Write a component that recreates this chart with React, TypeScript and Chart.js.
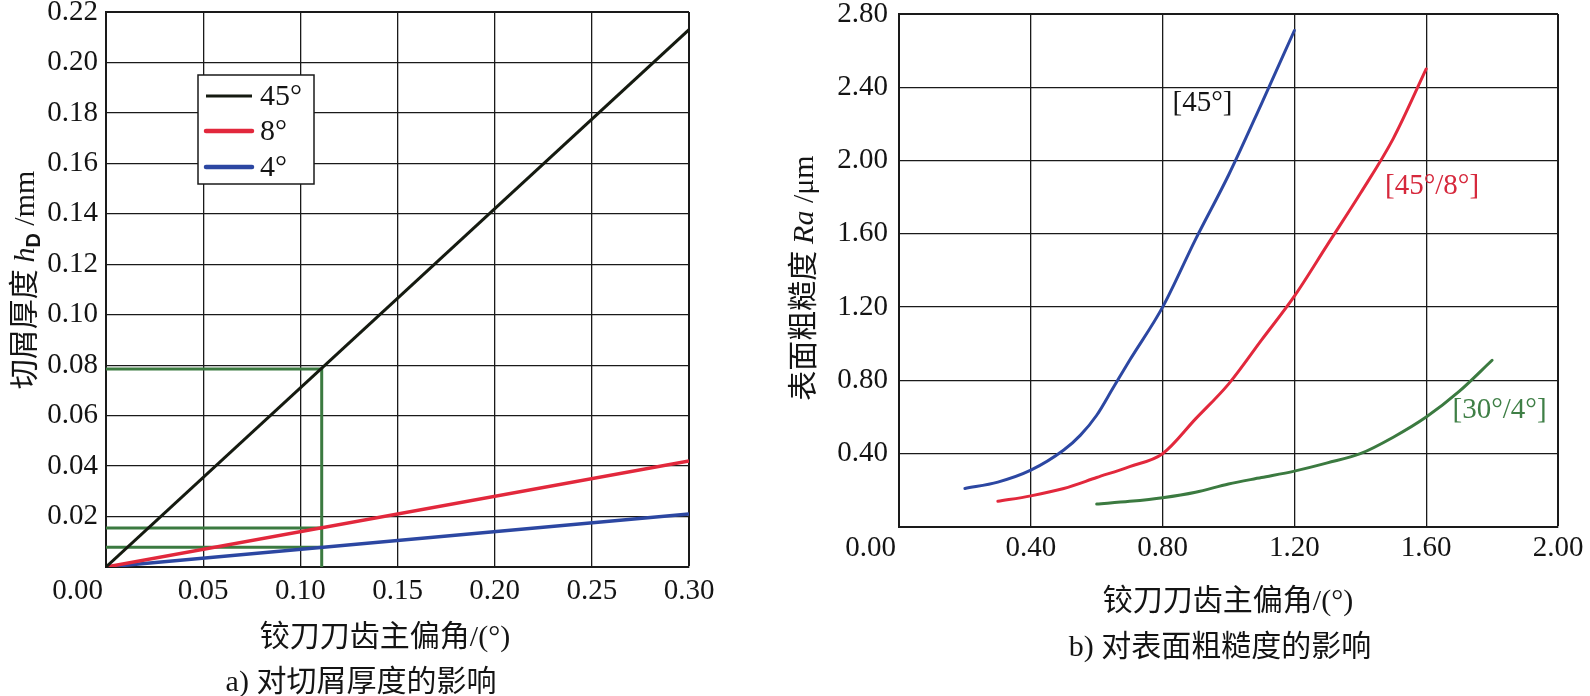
import React, { useEffect, useRef } from "react";
import { Chart, registerables } from "chart.js";

Chart.register(...registerables);

const SERIF = '"Liberation Serif", "DejaVu Serif", serif';
const CJK = '"Noto Sans CJK SC", "Noto Sans", sans-serif';
const SANS = '"Liberation Sans", "DejaVu Sans", sans-serif';
const TEXT = "#141414";
const GRID = "#1a1a1a";

// ---------- Left chart: chip thickness ----------
const feedX = [0, 0.3];
const hD45 = [0, 0.213];
const hD8 = [0, 0.042];
const hD4 = [0, 0.021];
const refX = 0.111;
const refY = [0.0785, 0.0155, 0.0078];
const legendLabels = ["45°", "8°", "4°"];
const leftColors = ["#151a10", "#e2283c", "#2c47a2"];
const refColor = "#3b7a40";

// ---------- Right chart: surface roughness ----------
const ra45X = [0.2, 0.3, 0.4, 0.5, 0.55, 0.6, 0.65, 0.7, 0.8, 0.9, 1.0, 1.1, 1.2];
const ra45Y = [0.21, 0.245, 0.31, 0.42, 0.5, 0.61, 0.76, 0.91, 1.2, 1.57, 1.92, 2.31, 2.71];
const ra458X = [0.3, 0.4, 0.5, 0.6, 0.7, 0.8, 0.9, 1.0, 1.1, 1.2, 1.3, 1.4, 1.5, 1.6];
const ra458Y = [0.14, 0.17, 0.21, 0.27, 0.33, 0.4, 0.59, 0.78, 1.02, 1.26, 1.54, 1.82, 2.12, 2.5];
const ra304X = [0.6, 0.7, 0.8, 0.9, 1.0, 1.1, 1.2, 1.3, 1.4, 1.5, 1.6, 1.7, 1.8];
const ra304Y = [0.125, 0.14, 0.16, 0.19, 0.235, 0.27, 0.305, 0.35, 0.4, 0.49, 0.6, 0.74, 0.91];
const curveLabels = ["[45°]", "[45°/8°]", "[30°/4°]"];
const curveLabelX = [0.83, 1.475, 1.68];
const curveLabelY = [2.31, 1.86, 0.634];
const rightColors = ["#2c47a2", "#e2283c", "#3b7a40"];
const curveLabelColors = ["#141414", "#d6283c", "#3f7f46"];

const xTitle = "铰刀刀齿主偏角";
const xTitleUnit = "/(°)";
const leftSubtitle = "对切屑厚度的影响";
const rightSubtitle = "对表面粗糙度的影响";

type Seg = { t: string; font: string; dy?: number };

function drawRich(ctx: CanvasRenderingContext2D, segs: Seg[], cx: number, cy: number, rotate: boolean, color = TEXT) {
  ctx.save();
  ctx.translate(cx, cy);
  if (rotate) ctx.rotate(-Math.PI / 2);
  ctx.fillStyle = color;
  ctx.textBaseline = "alphabetic";
  ctx.textAlign = "left";
  let total = 0;
  const widths = segs.map((s) => {
    ctx.font = s.font;
    const w = ctx.measureText(s.t).width;
    total += w;
    return w;
  });
  let x = -total / 2;
  segs.forEach((s, i) => {
    ctx.font = s.font;
    ctx.fillText(s.t, x, 10 + (s.dy || 0));
    x += widths[i];
  });
  ctx.restore();
}

function lineWidthFor(max: number) {
  return (c: any) => (c.tick && Math.abs(c.tick.value - max) < 1e-9 ? 2 : 1.3);
}

function drawTicks(chart: any, yGap: number, xGap: number) {
  const { ctx, scales, chartArea } = chart;
  const x = scales.x;
  const y = scales.y;
  ctx.save();
  ctx.fillStyle = TEXT;
  ctx.font = `29px ${SERIF}`;
  ctx.textBaseline = "middle";
  ctx.textAlign = "right";
  y.ticks.forEach((t: any, i: number) => {
    if (i === 0) return; // origin label is shown on the x axis only
    ctx.fillText(t.value.toFixed(2), chartArea.left - yGap, y.getPixelForValue(t.value));
  });
  x.ticks.forEach((t: any, i: number) => {
    const px = x.getPixelForValue(t.value);
    if (i === 0) {
      ctx.textAlign = "right";
      ctx.fillText(t.value.toFixed(2), px - 3, chartArea.bottom + xGap);
    } else {
      ctx.textAlign = "center";
      ctx.fillText(t.value.toFixed(2), px, chartArea.bottom + xGap);
    }
  });
  ctx.restore();
}

const pts = (xs: number[], ys: number[]) => xs.map((x, i) => ({ x, y: ys[i] }));

const leftPlugin = {
  id: "leftDecor",
  afterDraw(chart: any) {
    const { ctx, chartArea } = chart;
    drawTicks(chart, 8, 24);
    // legend box
    const bx = chartArea.left + 92;
    const by = chartArea.top + 63;
    const bw = 116;
    const bh = 109;
    ctx.save();
    ctx.fillStyle = "#ffffff";
    ctx.fillRect(bx, by, bw, bh);
    ctx.strokeStyle = GRID;
    ctx.lineWidth = 1.5;
    ctx.strokeRect(bx, by, bw, bh);
    const rows = [21, 56, 92];
    chart.data.datasets.slice(0, 3).forEach((ds: any, i: number) => {
      const yy = by + rows[i];
      ctx.strokeStyle = ds.borderColor;
      ctx.lineWidth = i === 0 ? 3 : 4.5;
      ctx.lineCap = i === 0 ? "butt" : "round";
      ctx.beginPath();
      ctx.moveTo(bx + 8, yy);
      ctx.lineTo(bx + 54, yy);
      ctx.stroke();
      ctx.fillStyle = TEXT;
      ctx.font = `30px ${SERIF}`;
      ctx.textBaseline = "middle";
      ctx.textAlign = "left";
      ctx.fillText(ds.label, bx + 62, yy + 1);
    });
    ctx.restore();
    // titles
    drawRich(ctx, [{ t: "切屑厚度 ", font: `30px ${CJK}` }, { t: "h", font: `italic 30px ${SERIF}` }, { t: "D", font: `bold 20px ${SANS}`, dy: 6 }, { t: " /mm", font: `30px ${SERIF}` }], 24, 280, true);
    drawRich(ctx, [{ t: xTitle, font: `30px ${CJK}` }, { t: xTitleUnit, font: `30px ${SERIF}` }], 385, 636, false);
    drawRich(ctx, [{ t: "a) ", font: `30px ${SERIF}` }, { t: leftSubtitle, font: `30px ${CJK}` }], 361, 681, false);
  },
};

const rightPlugin = {
  id: "rightDecor",
  afterDraw(chart: any) {
    const { ctx, scales } = chart;
    drawTicks(chart, 11, 21);
    ctx.save();
    ctx.font = `29px ${SERIF}`;
    ctx.textBaseline = "middle";
    ctx.textAlign = "left";
    curveLabels.forEach((lab, i) => {
      ctx.fillStyle = curveLabelColors[i];
      ctx.fillText(lab, scales.x.getPixelForValue(curveLabelX[i]), scales.y.getPixelForValue(curveLabelY[i]));
    });
    ctx.restore();
    drawRich(ctx, [{ t: "表面粗糙度 ", font: `30px ${CJK}` }, { t: "Ra", font: `italic 30px ${SERIF}` }, { t: " /μm", font: `30px ${SERIF}` }], 23, 278, true);
    drawRich(ctx, [{ t: xTitle, font: `30px ${CJK}` }, { t: xTitleUnit, font: `30px ${SERIF}` }], 448, 600, false);
    drawRich(ctx, [{ t: "b) ", font: `30px ${SERIF}` }, { t: rightSubtitle, font: `30px ${CJK}` }], 440, 646, false);
  },
};

function axis(max: number, step: number) {
  return {
    type: "linear" as const,
    min: 0,
    max,
    ticks: { stepSize: step, display: false },
    grid: { color: GRID, lineWidth: lineWidthFor(max), drawTicks: false, tickLength: 0 },
    border: { display: true, color: GRID, width: 2 },
  };
}

function LeftChart() {
  const ref = useRef<HTMLCanvasElement>(null);
  useEffect(() => {
    const line = (label: string, data: any, color: string, w: number) => ({
      label,
      data,
      borderColor: color,
      backgroundColor: color,
      borderWidth: w,
      pointRadius: 0,
      fill: false,
      tension: 0,
    });
    const chart = new Chart(ref.current as HTMLCanvasElement, {
      type: "line",
      data: {
        datasets: [
          line(legendLabels[0], pts(feedX, hD45), leftColors[0], 3),
          line(legendLabels[1], pts(feedX, hD8), leftColors[1], 3.5),
          line(legendLabels[2], pts(feedX, hD4), leftColors[2], 3.5),
          line("ref45", [{ x: 0, y: refY[0] }, { x: refX, y: refY[0] }, { x: refX, y: 0 }], refColor, 3),
          line("ref8", [{ x: 0, y: refY[1] }, { x: refX, y: refY[1] }], refColor, 3),
          line("ref4", [{ x: 0, y: refY[2] }, { x: refX, y: refY[2] }], refColor, 3),
        ],
      },
      options: {
        animation: false,
        responsive: false,
        maintainAspectRatio: false,
        layout: { padding: { left: 106, right: 91, top: 12, bottom: 129 } },
        plugins: { legend: { display: false }, tooltip: { enabled: false } },
        scales: { x: axis(0.3, 0.05), y: axis(0.22, 0.02) },
      },
      plugins: [leftPlugin],
    });
    return () => chart.destroy();
  }, []);
  return <canvas ref={ref} width={780} height={696} style={{ position: "absolute", left: 0, top: 0, width: 780, height: 696 }} />;
}

function RightChart() {
  const ref = useRef<HTMLCanvasElement>(null);
  useEffect(() => {
    const curve = (label: string, data: any, color: string) => ({
      label,
      data,
      borderColor: color,
      backgroundColor: color,
      borderWidth: 3,
      borderCapStyle: "round" as const,
      pointRadius: 0,
      fill: false,
      cubicInterpolationMode: "monotone" as const,
    });
    const chart = new Chart(ref.current as HTMLCanvasElement, {
      type: "line",
      data: {
        datasets: [
          curve(curveLabels[0], pts(ra45X, ra45Y), rightColors[0]),
          curve(curveLabels[1], pts(ra458X, ra458Y), rightColors[1]),
          curve(curveLabels[2], pts(ra304X, ra304Y), rightColors[2]),
        ],
      },
      options: {
        animation: false,
        responsive: false,
        maintainAspectRatio: false,
        layout: { padding: { left: 119, right: 32, top: 14, bottom: 169 } },
        plugins: { legend: { display: false }, tooltip: { enabled: false } },
        scales: { x: axis(2.0, 0.4), y: axis(2.8, 0.4) },
      },
      plugins: [rightPlugin],
    });
    return () => chart.destroy();
  }, []);
  return <canvas ref={ref} width={810} height={696} style={{ position: "absolute", left: 780, top: 0, width: 810, height: 696 }} />;
}

export default function App() {
  return (
    <div style={{ position: "fixed", left: 0, top: 0, width: 1590, height: 696, background: "#ffffff", overflow: "hidden" }}>
      <LeftChart />
      <RightChart />
    </div>
  );
}
